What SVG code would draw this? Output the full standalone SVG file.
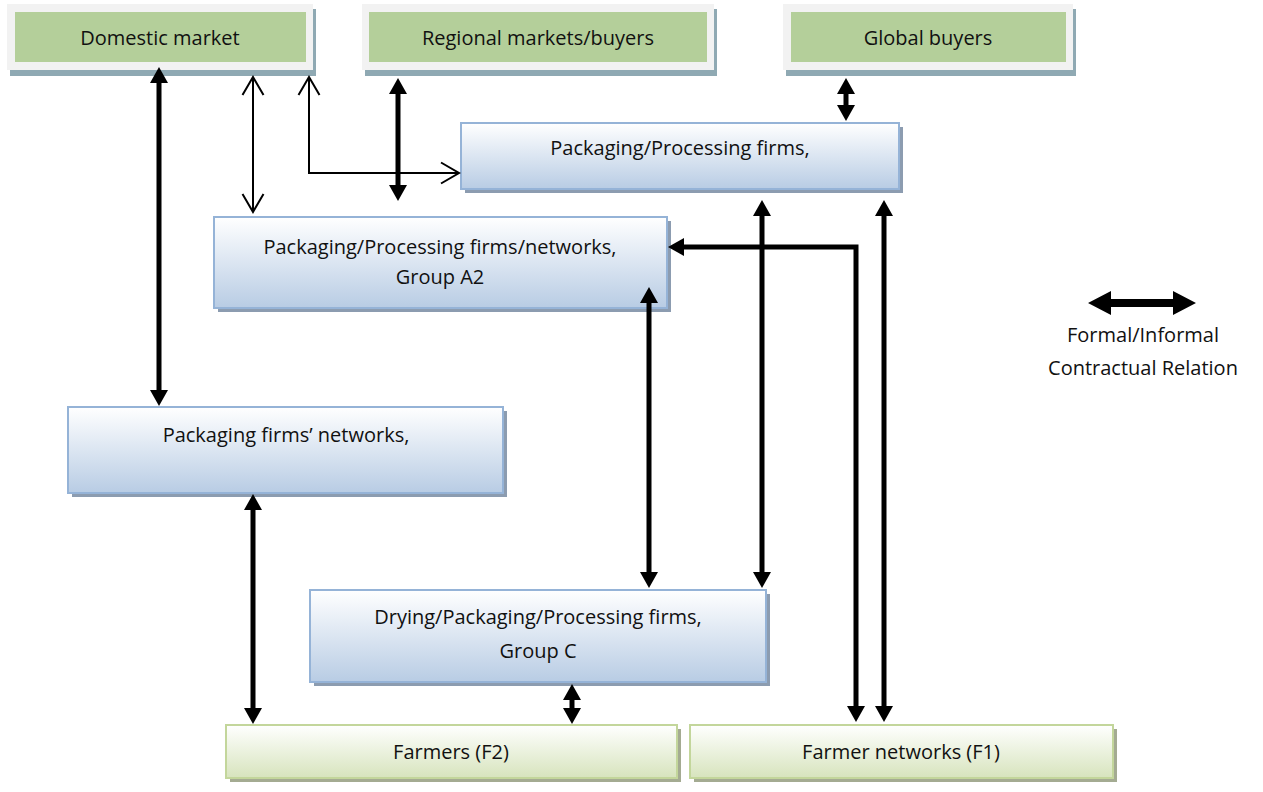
<svg xmlns="http://www.w3.org/2000/svg" width="1263" height="792" viewBox="0 0 1263 792">
  <defs>
    <linearGradient id="gBlue" x1="0" y1="0" x2="0" y2="1">
      <stop offset="0" stop-color="#ffffff"/>
      <stop offset="1" stop-color="#b8cce4"/>
    </linearGradient>
    <linearGradient id="gGreen" x1="0" y1="0" x2="0" y2="1">
      <stop offset="0" stop-color="#ffffff"/>
      <stop offset="1" stop-color="#d7e4bd"/>
    </linearGradient>
    <!-- filled head for the thick contractual-relation links -->
    <marker id="headFill" markerUnits="userSpaceOnUse" markerWidth="18" markerHeight="18" refX="8" refY="9" orient="auto-start-reverse" overflow="visible">
      <path d="M0,0 L16,9 L0,18 Z" fill="#000"/>
    </marker>
    <!-- open V head for the thin links -->
    <marker id="headOpen" markerUnits="userSpaceOnUse" markerWidth="20" markerHeight="22" refX="18" refY="10.5" orient="auto-start-reverse" overflow="visible">
      <path d="M0,0 L18,10.5 L0,21" fill="none" stroke="#000" stroke-width="2"/>
    </marker>
  </defs>
  <style>
    text { font-family: "Open Sans", "Liberation Sans", Arial, sans-serif; font-size: 20px; fill: #111; text-anchor: middle; }
    .frame { fill: #f2f2f2; }
    .frameShadow { fill: #8fa9b3; }
    .market { fill: #b4cf9a; }
    .blue { fill: url(#gBlue); stroke: #95b3d7; stroke-width: 2; }
    .blueShadow { fill: #8c9cb0; }
    .farm { fill: url(#gGreen); stroke: #c3d69b; stroke-width: 2; }
    .farmShadow { fill: #a4ab92; }
    .thick { fill: none; stroke: #000; stroke-width: 5; marker-start: url(#headFill); marker-end: url(#headFill); }
    .thin { fill: none; stroke: #000; stroke-width: 2; marker-start: url(#headOpen); marker-end: url(#headOpen); }
  </style>
  <rect width="1263" height="792" fill="#ffffff"/>

  <!-- market nodes -->
  <g id="domestic-market">
    <rect class="frameShadow" x="10" y="9" width="306" height="67"/>
    <rect class="frame" x="7" y="4" width="306" height="66"/>
    <rect class="market" x="15" y="12" width="291" height="50"/>
    <text x="160" y="45">Domestic market</text>
  </g>
  <g id="regional-markets">
    <rect class="frameShadow" x="365" y="9" width="352" height="67"/>
    <rect class="frame" x="362" y="4" width="352" height="66"/>
    <rect class="market" x="369" y="12" width="338" height="50"/>
    <text x="538" y="45">Regional markets/buyers</text>
  </g>
  <g id="global-buyers">
    <rect class="frameShadow" x="786" y="9" width="290" height="67"/>
    <rect class="frame" x="783" y="4" width="290" height="66"/>
    <rect class="market" x="791" y="12" width="275" height="50"/>
    <text x="928" y="45">Global buyers</text>
  </g>

  <!-- firm nodes -->
  <g id="processing-firms">
    <rect class="blueShadow" x="465" y="127" width="438" height="66"/>
    <rect class="blue" x="461" y="123" width="438" height="66"/>
    <text x="680" y="155">Packaging/Processing firms,</text>
  </g>
  <g id="group-a2">
    <rect class="blueShadow" x="218" y="221" width="453" height="91"/>
    <rect class="blue" x="214" y="217" width="453" height="91"/>
    <text x="440" y="254">Packaging/Processing firms/networks,</text>
    <text x="440" y="284">Group A2</text>
  </g>
  <g id="packaging-networks">
    <rect class="blueShadow" x="72" y="411" width="435" height="86"/>
    <rect class="blue" x="68" y="407" width="435" height="86"/>
    <text x="286" y="442">Packaging firms’ networks,</text>
  </g>
  <g id="group-c">
    <rect class="blueShadow" x="314" y="594" width="456" height="92"/>
    <rect class="blue" x="310" y="590" width="456" height="92"/>
    <text x="538" y="624">Drying/Packaging/Processing firms,</text>
    <text x="538" y="658">Group C</text>
  </g>

  <!-- farmer nodes -->
  <g id="farmers-f2">
    <rect class="farmShadow" x="230" y="729" width="451" height="53"/>
    <rect class="farm" x="226" y="725" width="451" height="53"/>
    <text x="451" y="759">Farmers (F2)</text>
  </g>
  <g id="farmer-networks-f1">
    <rect class="farmShadow" x="694" y="729" width="423" height="53"/>
    <rect class="farm" x="690" y="725" width="423" height="53"/>
    <text x="901" y="759">Farmer networks (F1)</text>
  </g>

  <!-- links -->
  <g id="connectors">
    <path class="thick" d="M159,75 V398"/>
    <path class="thick" d="M398,86 V193"/>
    <path class="thick" d="M846,86 V113"/>
    <path class="thick" d="M762,208 V580"/>
    <path class="thick" d="M884,208 V714"/>
    <path class="thick" d="M649,295 V580"/>
    <path class="thick" d="M253,502 V716"/>
    <path class="thick" d="M572,692 V716"/>
    <path class="thick" d="M856,714 V247 H676"/>
    <path class="thin" d="M253,77 V212"/>
    <path class="thin" d="M309,77 V173 H459"/>
  </g>

  <!-- legend -->
  <g id="legend">
    <polygon points="1088,303 1111,291 1111,299 1173,299 1173,291 1196,303 1173,315 1173,307 1111,307 1111,315" fill="#000"/>
    <text x="1143" y="342">Formal/Informal</text>
    <text x="1143" y="375">Contractual Relation</text>
  </g>
</svg>
